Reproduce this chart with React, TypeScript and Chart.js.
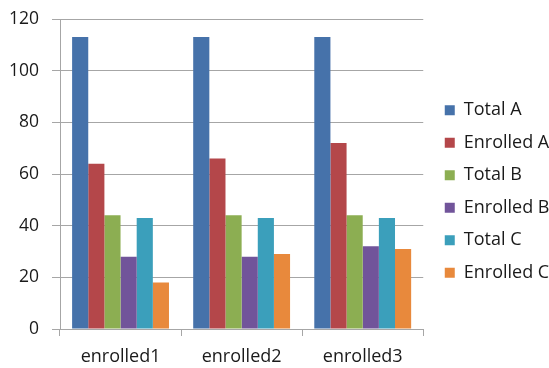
import React, { useEffect, useRef } from "react";
import { Chart, registerables } from "chart.js";

Chart.register(...registerables);

const categories = ["enrolled1", "enrolled2", "enrolled3"];
const seriesNames = ["Total A", "Enrolled A", "Total B", "Enrolled B", "Total C", "Enrolled C"];
const totalA = [113, 113, 113];
const enrolledA = [64, 66, 72];
const totalB = [44, 44, 44];
const enrolledB = [28, 28, 32];
const totalC = [43, 43, 43];
const enrolledC = [18, 29, 31];
const seriesColors = ["#4672AA", "#B4474A", "#8CAE52", "#71549A", "#3B9FBB", "#E8893C"];
const yTicks = [0, 20, 40, 60, 80, 100, 120];

const legendShift = {
  id: "legendShift",
  afterLayout(chart: any) {
    const lg = chart.legend;
    if (!lg) return;
    lg.left += 7;
    lg.right += 7;
    lg.top -= 2;
    lg.bottom -= 2;
  },
};

export default function App() {
  const ref = useRef<HTMLCanvasElement>(null);
  useEffect(() => {
    const values = [totalA, enrolledA, totalB, enrolledB, totalC, enrolledC];
    const font = "'Open Sans', 'Noto Sans', sans-serif";
    const chart = new Chart(ref.current!, {
      type: "bar",
      data: {
        labels: categories,
        datasets: seriesNames.map((n, i) => ({
          label: n,
          data: values[i],
          backgroundColor: seriesColors[i],
          borderWidth: 0,
          barPercentage: 1,
          categoryPercentage: 0.8,
        })),
      },
      options: {
        responsive: false,
        animation: false,
        layout: { padding: { top: 19, right: -3.5, left: 0, bottom: 0 } },
        plugins: {
          tooltip: { enabled: false },
          legend: {
            position: "right",
            labels: {
              boxWidth: 10,
              boxHeight: 10,
              padding: 14.5,
              color: "#1a1a1a",
              font: { family: font, size: 18 },
            },
          },
        },
        scales: {
          x: {
            grid: {
              drawOnChartArea: false,
              drawTicks: true,
              tickLength: 7,
              color: "#a6a6a6",
            },
            border: { color: "#a6a6a6" },
            ticks: { color: "#1a1a1a", padding: 10, font: { family: font, size: 18 } },
            afterFit: (s: any) => { s.height = 39; },
          },
          y: {
            min: 0,
            max: 120,
            afterBuildTicks: (s: any) => { s.ticks = yTicks.map((v) => ({ value: v })); },
            grid: { color: "#a6a6a6", tickLength: 8 },
            border: { color: "#a6a6a6" },
            ticks: { color: "#1a1a1a", padding: 13, font: { family: font, size: 17.5 } },
            afterFit: (s: any) => {
              s.width = 60;
              s.paddingTop = 10;
              s.paddingBottom = 10;
            },
          },
        },
      },
      plugins: [legendShift],
    });
    return () => chart.destroy();
  }, []);
  return (
    <div style={{ position: "fixed", left: 0, top: 0, width: 549, height: 368, background: "#fff" }}>
      <canvas ref={ref} width={549} height={368} />
    </div>
  );
}
